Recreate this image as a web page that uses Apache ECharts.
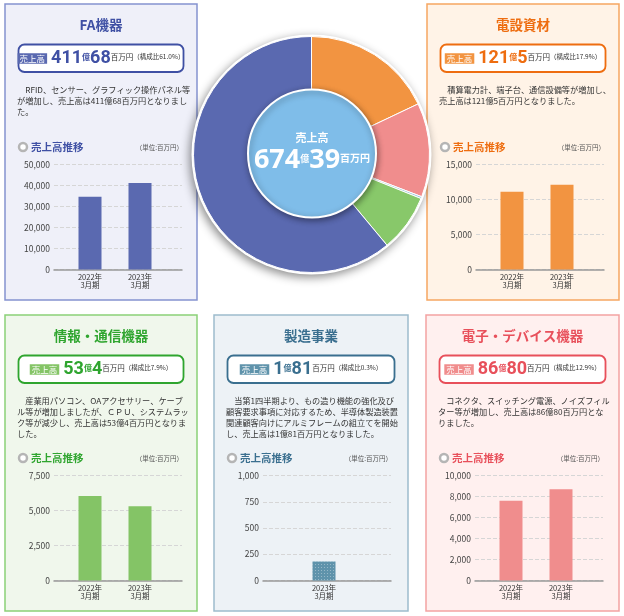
<!DOCTYPE html>
<html>
<head>
<meta charset="utf-8">
<script src="https://cdn.jsdelivr.net/npm/echarts@6/dist/echarts.min.js"></script>
<style>
html,body{margin:0;padding:0;background:#fff;}
#chartmain{width:624px;height:616px;}
</style>
</head>
<body>
<div id="chartmain"></div>
<script>
// データ（単位:百万円）
var segments = ['FA機器', '電設資材', '情報・通信機器', '製造事業', '電子・デバイス機器'];
var periods = ['2022年\n3月期', '2023年\n3月期'];
var sales2022 = [34600, 11100, 6030, null, 7600];
var sales2023 = [41168, 12105, 5304, 181, 8680];
var shares = ['61.0', '17.9', '7.9', '0.3', '12.9'];
var yMax = [50000, 15000, 7500, 1000, 10000];
var yStep = [10000, 5000, 2500, 250, 2000];
var totalSales = 67439;
// 円グラフの並び（12時から時計回り）
var pieOrder = [1, 4, 3, 2, 0];
var notes = [
    ['　RFID、センサー、グラフィック操作パネル等', 'が増加し、売上高は411億68百万円となりまし', 'た。'],
    ['　積算電力計、端子台、通信設備等が増加し、', '売上高は121億5百万円となりました。'],
    ['　産業用パソコン、OAアクセサリー、ケーブ', 'ル等が増加しましたが、ＣＰＵ、システムラッ', 'ク等が減少し、売上高は53億4百万円となりま', 'した。'],
    ['　当第1四半期より、もの造り機能の強化及び', '顧客要求事項に対応するため、半導体製造装置', '関連顧客向けにアルミフレームの組立てを開始', 'し、売上高は1億81百万円となりました。'],
    ['　コネクタ、スイッチング電源、ノイズフィル', 'ター等が増加し、売上高は86億80百万円とな', 'りました。']
];

var mainColor = ['#5a69b0', '#f29441', '#84c466', '#5f93ab', '#f08d8d'];
var pieColor = ['#5a69b0', '#f29441', '#88c86a', '#9cc7dd', '#f08d8d'];
var titleColor = ['#3f50a4', '#ee6d10', '#2fa52f', '#3a6f8f', '#e8505b'];
var panelFill = ['#eff0f9', '#fff3e7', '#f0f7ec', '#edf2f6', '#fff0ef'];
var panelLine = ['#8592d0', '#f6a662', '#8ad177', '#9dbccd', '#f3a2a2'];
var panelPos = [[5, 4, 192], [427, 4, 192], [5, 315, 192], [214, 315, 194], [426, 315, 193]];
var PANEL_H = 296;
var FONT = '"Noto Sans CJK JP", "Noto Sans", sans-serif';

var graphics = [];
var grids = [], xAxes = [], yAxes = [], series = [];

function oku(v) {
    return {o: Math.floor(v / 100), m: v % 100};
}

segments.forEach(function (name, i) {
    var px = panelPos[i][0], py = panelPos[i][1], pw = panelPos[i][2];
    var c = mainColor[i], tc = titleColor[i];
    // パネル
    graphics.push({
        type: 'rect', z: -10,
        shape: {x: px, y: py, width: pw, height: PANEL_H},
        style: {fill: panelFill[i], stroke: panelLine[i], lineWidth: 1.5}
    });
    graphics.push({
        type: 'text', x: px + pw / 2, y: py + 20.5, z: 5,
        style: {text: name, fill: tc, font: 'bold 13.5px ' + FONT, align: 'center', verticalAlign: 'middle'}
    });
    // 売上高ボックス
    graphics.push({
        type: 'rect', z: 1,
        shape: {x: px + 13.5, y: py + 40.5, width: pw - 27, height: 27.5, r: 6},
        style: {fill: '#fff', stroke: tc, lineWidth: 1.8}
    });
    var a = oku(sales2023[i]);
    graphics.push({
        type: 'text', x: px + pw / 2, y: py + 54.5, z: 5,
        style: {
            text: '{badge|売上高}{sp| }{num|' + a.o + '}{oku|億}{num|' + a.m + '}{unit|百万円}{ratio|（構成比' + shares[i] + '%）}',
            align: 'center', verticalAlign: 'middle',
            rich: {
                badge: {fill: '#fff', backgroundColor: c, fontSize: 8.5, fontFamily: FONT, padding: [1.5, 2, 0.5, 2], lineHeight: 10},
                sp: {width: 4, fontSize: 8},
                num: {fill: tc, fontSize: 18, fontWeight: 'bold', fontFamily: 'Roboto, sans-serif', lineHeight: 20},
                oku: {fill: tc, fontSize: 8, fontWeight: 'bold', fontFamily: FONT, lineHeight: 9, padding: [0, 0, 3, 0]},
                unit: {fill: '#333', fontSize: 7.5, fontFamily: FONT, lineHeight: 9, padding: [0, 0, 3, 0]},
                ratio: {fill: '#333', fontSize: 6.5, fontFamily: FONT, lineHeight: 8, padding: [0, 0, 3.5, 0]}
            }
        }
    });
    // 説明文
    graphics.push({
        type: 'text', x: px + 12, y: py + 80.5, z: 5,
        style: {text: notes[i].join('\n'), fill: '#333', font: '8.2px ' + FONT, lineHeight: 11, align: 'left', verticalAlign: 'top'}
    });
    // 売上高推移 見出し
    graphics.push({
        type: 'circle', z: 5,
        shape: {cx: px + 18, cy: py + 143, r: 4},
        style: {fill: '#fff', stroke: '#b5b5b5', lineWidth: 2.5}
    });
    graphics.push({
        type: 'text', x: px + 26, y: py + 143, z: 5,
        style: {text: '売上高推移', fill: tc, font: 'bold 10.5px ' + FONT, align: 'left', verticalAlign: 'middle'}
    });
    graphics.push({
        type: 'text', x: px + 178, y: py + 144, z: 5,
        style: {text: '（単位:百万円）', fill: '#555', font: '6.5px ' + FONT, align: 'right', verticalAlign: 'middle'}
    });

    // 棒グラフ（枠用グリッド + 棒用グリッド）
    var cats = [], vals = [];
    [sales2022[i], sales2023[i]].forEach(function (v, k) {
        if (v != null) { cats.push(periods[k]); vals.push(v); }
    });
    var top = py + 160.5, h = 105;
    grids.push({left: px + 49, width: 128, top: top, height: h});
    grids.push({left: px + 60, width: 100, top: top, height: h});
    var g0 = grids.length - 2, g1 = grids.length - 1;
    xAxes.push({
        type: 'value', gridIndex: g0, min: 0, max: 1,
        axisLine: {show: true, lineStyle: {color: '#999', width: 1.5}},
        axisTick: {show: false}, axisLabel: {show: false}, splitLine: {show: false}
    });
    xAxes.push({
        type: 'category', gridIndex: g1, data: cats,
        axisLine: {show: false}, axisTick: {show: false},
        axisLabel: {fontSize: 7.5, color: '#333', lineHeight: 8, margin: 4, fontFamily: FONT}
    });
    yAxes.push({
        type: 'value', gridIndex: g0, min: 0, max: yMax[i], interval: yStep[i],
        axisLine: {show: false}, axisTick: {show: false},
        axisLabel: {fontSize: 8.5, color: '#444', margin: 4, fontFamily: FONT},
        splitLine: {lineStyle: {color: '#d6d6d6', type: 'dashed', width: 1}}
    });
    yAxes.push({type: 'value', gridIndex: g1, min: 0, max: yMax[i], show: false, splitLine: {show: false}});
    var item = {color: c};
    if (i === 3) {
        item.decal = {symbol: 'rect', symbolSize: 1, dashArrayX: [1, 2], dashArrayY: [1, 2], color: 'rgba(255,255,255,0.35)'};
    }
    series.push({
        type: 'bar', name: name, xAxisIndex: g1, yAxisIndex: g1,
        data: vals, barWidth: 23, itemStyle: item, silent: true
    });
});

// 円グラフ
var CX = 311.5, CY = 154.5;
graphics.push({
    type: 'circle', z: 1,
    shape: {cx: CX, cy: CY, r: 120},
    style: {fill: '#fff', shadowBlur: 10, shadowColor: 'rgba(0,0,0,0.45)', shadowOffsetX: -2, shadowOffsetY: 3}
});
series.push({
    type: 'pie', center: [CX, CY], radius: [0, 118], startAngle: 90, z: 3,
    label: {show: false}, labelLine: {show: false}, silent: true,
    itemStyle: {borderColor: '#fff', borderWidth: 1},
    data: pieOrder.map(function (k) {
        return {name: segments[k], value: sales2023[k], itemStyle: {color: pieColor[k]}};
    })
});
graphics.push({
    type: 'circle', z: 20,
    shape: {cx: CX + 0.5, cy: CY - 1, r: 64},
    style: {fill: '#7fbde9', stroke: '#fff', lineWidth: 2, shadowBlur: 6, shadowColor: 'rgba(0,0,0,0.4)', shadowOffsetX: 1, shadowOffsetY: 2}
});
var t = oku(totalSales);
graphics.push({
    type: 'text', x: CX + 0.5, y: CY - 17, z: 21,
    style: {text: '売上高', fill: '#fff', font: 'bold 11px ' + FONT, align: 'center', verticalAlign: 'middle'}
});
graphics.push({
    type: 'text', x: CX + 0.5, y: CY + 6, z: 21,
    style: {
        text: '{big|' + t.o + '}{oku|億}{big|' + t.m + '}{unit|百万円}',
        align: 'center', verticalAlign: 'middle',
        rich: {
            big: {fill: '#fff', fontSize: 27, fontWeight: 'bold', fontFamily: '"Open Sans", sans-serif', lineHeight: 28},
            oku: {fill: '#fff', fontSize: 9, fontWeight: 'bold', fontFamily: FONT, lineHeight: 10, padding: [0, 0, 4.5, 0]},
            unit: {fill: '#fff', fontSize: 10, fontWeight: 'bold', fontFamily: FONT, lineHeight: 11, padding: [0, 0, 4.5, 0]}
        }
    }
});

var myChart = echarts.init(document.getElementById('chartmain'));
myChart.setOption({
    animation: false,
    backgroundColor: '#fff',
    grid: grids,
    xAxis: xAxes,
    yAxis: yAxes,
    series: series,
    graphic: {elements: graphics}
});
</script>
</body>
</html>
